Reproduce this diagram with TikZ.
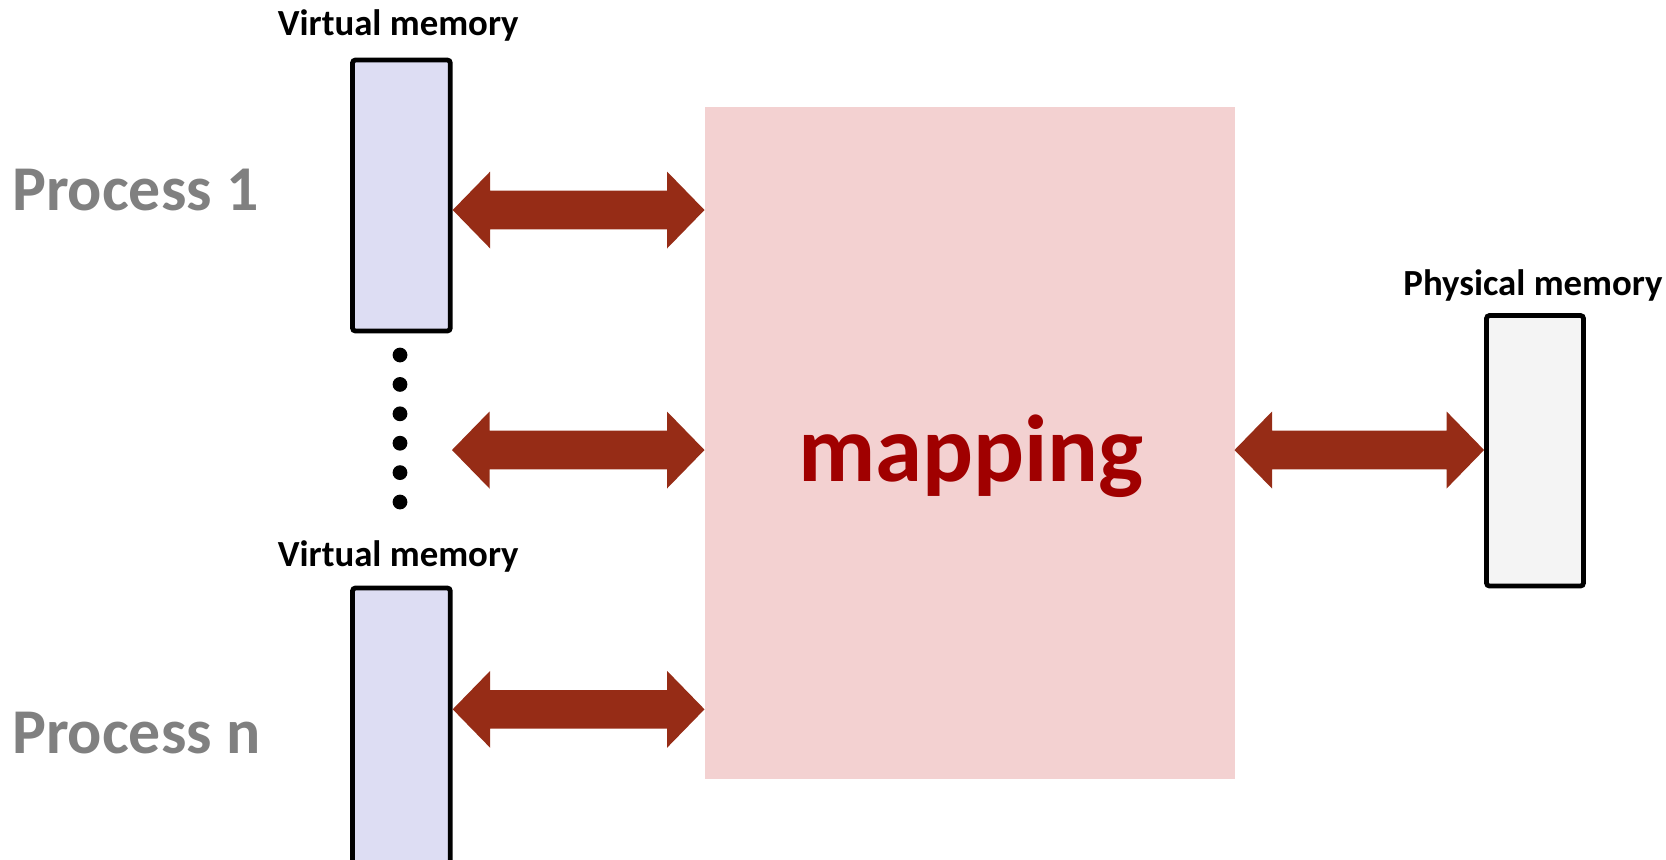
\documentclass[tikz,border=0pt]{standalone}
\usepackage{fontspec}
\setmainfont{Carlito}
\usetikzlibrary{calc}
\definecolor{vmfill}{RGB}{221,221,243}
\definecolor{pmfill}{RGB}{244,244,244}
\definecolor{mapfill}{RGB}{243,209,209}
\definecolor{arrcol}{RGB}{150,44,22}
\definecolor{maptext}{RGB}{160,0,0}
\definecolor{procgray}{RGB}{128,128,128}
\newcommand{\dblarr}[2]{%
 \fill[arrcol] let \p1=(#1), \p2=(#2) in
 (\x1,\y1) -- (\x1+18.75pt,\y1+19.25pt) -- (\x1+18.75pt,\y1+9.65pt) -- (\x2-18.75pt,\y1+9.65pt) -- (\x2-18.75pt,\y1+19.25pt) -- (\x2,\y1) -- (\x2-18.75pt,\y1-19.25pt) -- (\x2-18.75pt,\y1-9.65pt) -- (\x1+18.75pt,\y1-9.65pt) -- (\x1+18.75pt,\y1-19.25pt) -- cycle;}
\begin{document}
\begin{tikzpicture}[x=0.5pt,y=-0.5pt,
  mem/.style={draw=black,line width=2.4pt,rounded corners=1.5pt,inner sep=0},
  lbl/.style={font=\bfseries\fontsize{18.4}{20}\selectfont,inner sep=0,anchor=base},
  proc/.style={text=procgray,font=\bfseries\fontsize{31.9}{36}\selectfont,inner sep=0,anchor=base west}]
\useasboundingbox (0,0) rectangle (1666,859);
\clip (0,0) rectangle (1666,859);
% mapping block
\node[fill=mapfill,inner sep=0,outer sep=0,minimum width=265pt,minimum height=335.85pt] (map) at (969.5,443.2) {};
\node[text=maptext,font=\bfseries\fontsize{47.5}{52}\selectfont,inner sep=0,anchor=base] (mt) at (971,481.7) {mapping};
% memory boxes
\node[mem,fill=vmfill,minimum width=48.9pt,minimum height=135.5pt] (vm1) at (401.4,195.5) {};
\node[mem,fill=vmfill,minimum width=48.9pt,minimum height=138pt] (vm2) at (401.4,726) {};
\node[mem,fill=pmfill,minimum width=48.5pt,minimum height=135.25pt] (pm) at (1535,450.75) {};
% labels
\node[lbl] (vml1) at (398.3,35) {Virtual memory};
\node[lbl] (vml2) at (398.3,566.5) {Virtual memory};
\node[lbl] (pml) at (1533,295) {Physical memory};
\node[proc] (p1) at (11.7,210.7) {Process 1};
\node[proc] (pn) at (11.7,753.3) {Process n};
% dots
\foreach \i in {0,...,5} \fill (400,355+29.4*\i) circle (3.7pt);
% arrows
\coordinate (r1) at (0,210);
\coordinate (r2) at (0,450);
\coordinate (r3) at (0,709.3);
\coordinate (midL) at (452,450);
\dblarr{vm1.east |- r1}{map.west |- r1}
\dblarr{midL}{map.west |- r2}
\dblarr{vm2.east |- r3}{map.west |- r3}
\dblarr{map.east |- r2}{pm.west |- r2}
\end{tikzpicture}
\end{document}
